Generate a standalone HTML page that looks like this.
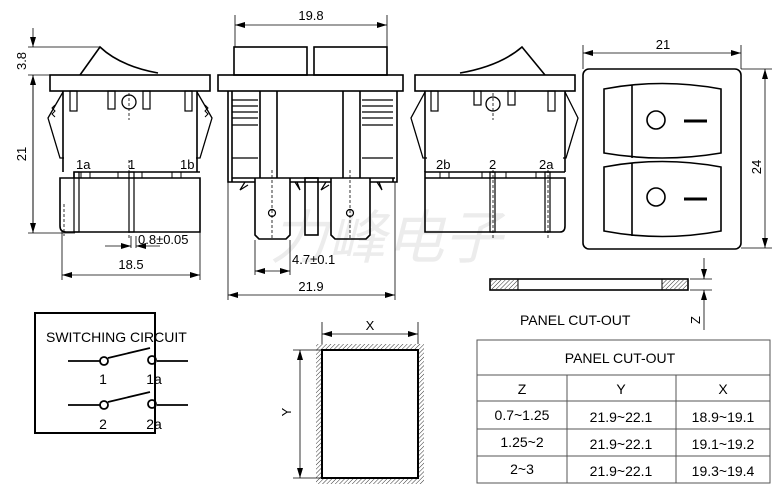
<!DOCTYPE html>
<html><head><meta charset="utf-8"><style>
html,body{margin:0;padding:0;background:#fff;}
svg{display:block;font-family:"Liberation Sans","Noto Sans CJK SC",sans-serif;}
</style></head><body>
<svg width="784" height="487" viewBox="0 0 784 487" xmlns="http://www.w3.org/2000/svg">
<defs>
<marker id="a" viewBox="0 0 10 6" refX="10" refY="3" markerWidth="10" markerHeight="6" orient="auto-start-reverse" markerUnits="userSpaceOnUse"><path d="M0,0 L10,3 L0,6 z" fill="#000"/></marker>
<pattern id="h" width="3" height="3" patternUnits="userSpaceOnUse" patternTransform="rotate(45)"><line x1="0" y1="0" x2="0" y2="3" stroke="#333" stroke-width="1"/></pattern>
</defs>
<!-- watermark -->
<text x="270" y="258" font-size="58" fill="#ececec" font-style="italic">力峰电子</text>
<g fill="none" stroke="#000" stroke-width="1.6">
<!-- VIEW 1 -->
<path d="M80,75 L100,47 Q120,66 158,73"/>
<rect x="50" y="75" width="160" height="16"/>
<path d="M63,91 V172 M197,91 V172"/>
<path d="M63,92 L48,118 L60,158 L64,158 M197,92 L212,118 L200,158 L196,158" stroke-width="1.3"/>
<path d="M55,105 l-3,3 l3,3 l-3,3 l3,3 M205,105 l3,3 l-3,3 l3,3 l-3,3" stroke-width="1"/>
<path d="M60,178 V226 Q60,232 66,232 H200 V178 Z M60,178 H74 V172 H200"/>
<rect x="108" y="91" width="7" height="18" stroke-width="1.2"/><rect x="143" y="91" width="7" height="18" stroke-width="1.2"/>
<rect x="70" y="91" width="7" height="20" stroke-width="1.2"/><rect x="185" y="91" width="7" height="20" stroke-width="1.2"/>
<circle cx="129" cy="102" r="7" stroke-width="1.3"/>
<rect x="74" y="172" width="5" height="60" stroke-width="1.2"/><rect x="129" y="172" width="5" height="60" stroke-width="1.2"/>
<rect x="81" y="172" width="9" height="6" stroke-width="1"/><rect x="118" y="172" width="24" height="6" stroke-width="1"/><rect x="172" y="172" width="9" height="6" stroke-width="1"/>
<!-- VIEW 2 -->
<rect x="234" y="47" width="73" height="28"/><rect x="314" y="47" width="73" height="28"/>
<rect x="218" y="75" width="185" height="16"/>
<path d="M228,91 V182 H255 M290,182 H331 M370,182 H397 V91"/>
<path d="M260,91 V178 M277,91 V178 M343,91 V178 M360,91 V178 M232,91 V178 H395 M232,178 V182 M393,178 V182"/>
<path d="M232,100 H258 M232,106 H258 M232,112 H258 M232,118 H258 M232,125 H258 M232,158 H258 M362,100 H393 M362,106 H393 M362,112 H393 M362,118 H393 M362,125 H393 M362,158 H393" stroke-width="1.2"/>
<path d="M255,178 V235 L259,239 H286 L290,235 V178 M331,178 V235 L335,239 H366 L370,235 V178"/>
<rect x="305" y="178" width="13" height="57"/>
<circle cx="272" cy="213" r="3.5" stroke-width="1.2"/><circle cx="350" cy="213" r="3.5" stroke-width="1.2"/>
<path d="M245,182 l-5,8 l8,-5 M295,182 l5,8 l-3,-8 M326,182 l-5,8 l8,-5 M377,182 l5,8 l-3,-8" stroke-width="1.2"/>
<!-- VIEW 3 -->
<path d="M460,73 Q500,66 522,47 L545,75"/>
<rect x="415" y="75" width="160" height="16"/>
<path d="M425,91 V172 M565,91 V172"/>
<path d="M425,92 L411,118 L423,158 L427,158 M565,92 L578,118 L566,158 L563,158" stroke-width="1.3"/>
<path d="M425,178 V232 H560 Q565,232 565,226 V178 Z M425,178 V172 H565"/>
<rect x="431" y="91" width="7" height="20" stroke-width="1.2"/><rect x="474" y="91" width="7" height="14" stroke-width="1.2"/>
<rect x="508" y="91" width="7" height="14" stroke-width="1.2"/><rect x="548" y="91" width="7" height="20" stroke-width="1.2"/>
<circle cx="493" cy="104" r="7" stroke-width="1.3"/>
<rect x="490" y="172" width="5" height="60" stroke-width="1.2"/><rect x="545" y="172" width="5" height="60" stroke-width="1.2"/>
<rect x="440" y="172" width="9" height="6" stroke-width="1"/><rect x="482" y="172" width="24" height="6" stroke-width="1"/><rect x="536" y="172" width="9" height="6" stroke-width="1"/>
<!-- VIEW 4 -->
<rect x="583" y="69" width="158" height="180" rx="6"/>
<path d="M604,89 Q662,78 721,89 V153 Q662,163 604,153 Z M632,85 V158"/>
<path d="M604,167 Q662,156 721,167 V231 Q662,242 604,231 Z M632,163 V236"/>
<circle cx="656" cy="120" r="9"/><circle cx="656" cy="197" r="9"/>
<path d="M684,121 H707 M684,199 H707" stroke-width="3"/>
<!-- panel side -->
<rect x="490" y="279" width="198" height="11"/>
</g>
<rect x="491" y="280" width="27" height="9" fill="url(#h)"/><rect x="662" y="280" width="25" height="9" fill="url(#h)"/>
<line x1="518" y1="279" x2="518" y2="290" stroke="#000"/><line x1="662" y1="279" x2="662" y2="290" stroke="#000"/>
<!-- dims -->
<g fill="none" stroke="#000" stroke-width="0.8">
<path d="M28,47 H100 M28,75 H50 M28,233 H75 M33,75 V233 M62,230 V280 M200,232 V280 M131,236 V248 M136,236 V248"/>
<line x1="33" y1="28" x2="33" y2="47" marker-end="url(#a)"/>
<line x1="33" y1="75" x2="33" y2="233" marker-start="url(#a)" marker-end="url(#a)"/>
<line x1="62" y1="275" x2="200" y2="275" marker-start="url(#a)" marker-end="url(#a)"/>
<line x1="105" y1="246" x2="131" y2="246" marker-end="url(#a)"/>
<line x1="160" y1="246" x2="136" y2="246" marker-end="url(#a)"/>
<path d="M235,15 V47 M387,15 V47 M228,182 V300 M395,182 V300 M255,240 V275 M290,240 V275"/>
<line x1="235" y1="25" x2="387" y2="25" marker-start="url(#a)" marker-end="url(#a)"/>
<line x1="255" y1="271" x2="290" y2="271" marker-start="url(#a)" marker-end="url(#a)"/>
<line x1="228" y1="295" x2="395" y2="295" marker-start="url(#a)" marker-end="url(#a)"/>
<path d="M583,45 V69 M741,45 V69 M741,69 H772 M741,248 H772"/>
<line x1="583" y1="53" x2="741" y2="53" marker-start="url(#a)" marker-end="url(#a)"/>
<line x1="765" y1="69" x2="765" y2="248" marker-start="url(#a)" marker-end="url(#a)"/>
<path d="M690,279 H712 M690,290 H712 M704,310 V330"/>
<line x1="704" y1="258" x2="704" y2="279" marker-end="url(#a)"/>
<line x1="704" y1="310" x2="704" y2="290" marker-end="url(#a)"/>
<path d="M64,204 V236 M129,160 V240 M272,170 V240 M350,170 V240 M493,170 V240 M548,170 V240 M129,93 V120 M493,93 V120" stroke-dasharray="3,2"/>
</g>
<g font-size="13" fill="#000">
<text x="311" y="20" text-anchor="middle">19.8</text>
<text x="131" y="269" text-anchor="middle">18.5</text>
<text x="138" y="244">0.8±0.05</text>
<text x="292" y="264">4.7±0.1</text>
<text x="311" y="291" text-anchor="middle">21.9</text>
<text x="663" y="49" text-anchor="middle">21</text>
<text transform="translate(26,61) rotate(-90)" text-anchor="middle">3.8</text>
<text transform="translate(26,154) rotate(-90)" text-anchor="middle">21</text>
<text transform="translate(761,167) rotate(-90)" text-anchor="middle">24</text>
<text x="76" y="169">1a</text><text x="128" y="169">1</text><text x="180" y="169">1b</text>
<text x="436" y="169">2b</text><text x="489" y="169">2</text><text x="539" y="169">2a</text>
<text x="520" y="325" font-size="14">PANEL CUT-OUT</text>
<text transform="translate(700,320) rotate(-90)" text-anchor="middle">Z</text>
</g>
<!-- switching circuit -->
<rect x="35" y="313" width="120" height="120" fill="none" stroke="#000" stroke-width="2"/>
<g font-size="14"><text x="46" y="342">SWITCHING CIRCUIT</text></g>
<g fill="none" stroke="#000" stroke-width="1.8">
<path d="M68,361 H101 M157,361 H188 M68,405 H101 M157,405 H188 M108,358 L150,348 M108,402 L150,392"/>
<circle cx="104" cy="361" r="4"/><circle cx="152" cy="360" r="4"/><circle cx="104" cy="405" r="4"/><circle cx="152" cy="404" r="4"/>
</g>
<g font-size="14" text-anchor="middle"><text x="103" y="384">1</text><text x="154" y="384">1a</text><text x="103" y="429">2</text><text x="154" y="429">2a</text></g>
<!-- cutout -->
<rect x="316" y="344" width="6" height="140" fill="url(#h)"/><rect x="418" y="344" width="6" height="140" fill="url(#h)"/>
<rect x="322" y="344" width="96" height="6" fill="url(#h)"/><rect x="322" y="478" width="96" height="6" fill="url(#h)"/>
<rect x="322" y="350" width="96" height="128" fill="#fff" stroke="#000" stroke-width="2"/>
<g fill="none" stroke="#000" stroke-width="0.8">
<path d="M322,322 V344 M418,322 V344 M293,350 H322 M293,478 H322"/>
<line x1="322" y1="334" x2="418" y2="334" marker-start="url(#a)" marker-end="url(#a)"/>
<line x1="300" y1="350" x2="300" y2="478" marker-start="url(#a)" marker-end="url(#a)"/>
</g>
<text x="370" y="330" font-size="13" text-anchor="middle">X</text>
<text transform="translate(291,412) rotate(-90)" font-size="13" text-anchor="middle">Y</text>
<!-- table -->
<g fill="none" stroke="#555" stroke-width="1">
<rect x="477" y="340" width="293" height="143"/>
<path d="M477,375 H770 M477,401 H770 M477,429 H770 M477,456 H770 M567,375 V483 M676,375 V483"/>
</g>
<g font-size="14" text-anchor="middle">
<text x="620" y="363">PANEL CUT-OUT</text>
<text x="522" y="394">Z</text><text x="621" y="394">Y</text><text x="723" y="394">X</text>
<text x="522" y="420">0.7~1.25</text><text x="621" y="422">21.9~22.1</text><text x="723" y="422">18.9~19.1</text>
<text x="522" y="447">1.25~2</text><text x="621" y="449">21.9~22.1</text><text x="723" y="449">19.1~19.2</text>
<text x="522" y="474">2~3</text><text x="621" y="476">21.9~22.1</text><text x="723" y="476">19.3~19.4</text>
</g>
</svg>
</body></html>
